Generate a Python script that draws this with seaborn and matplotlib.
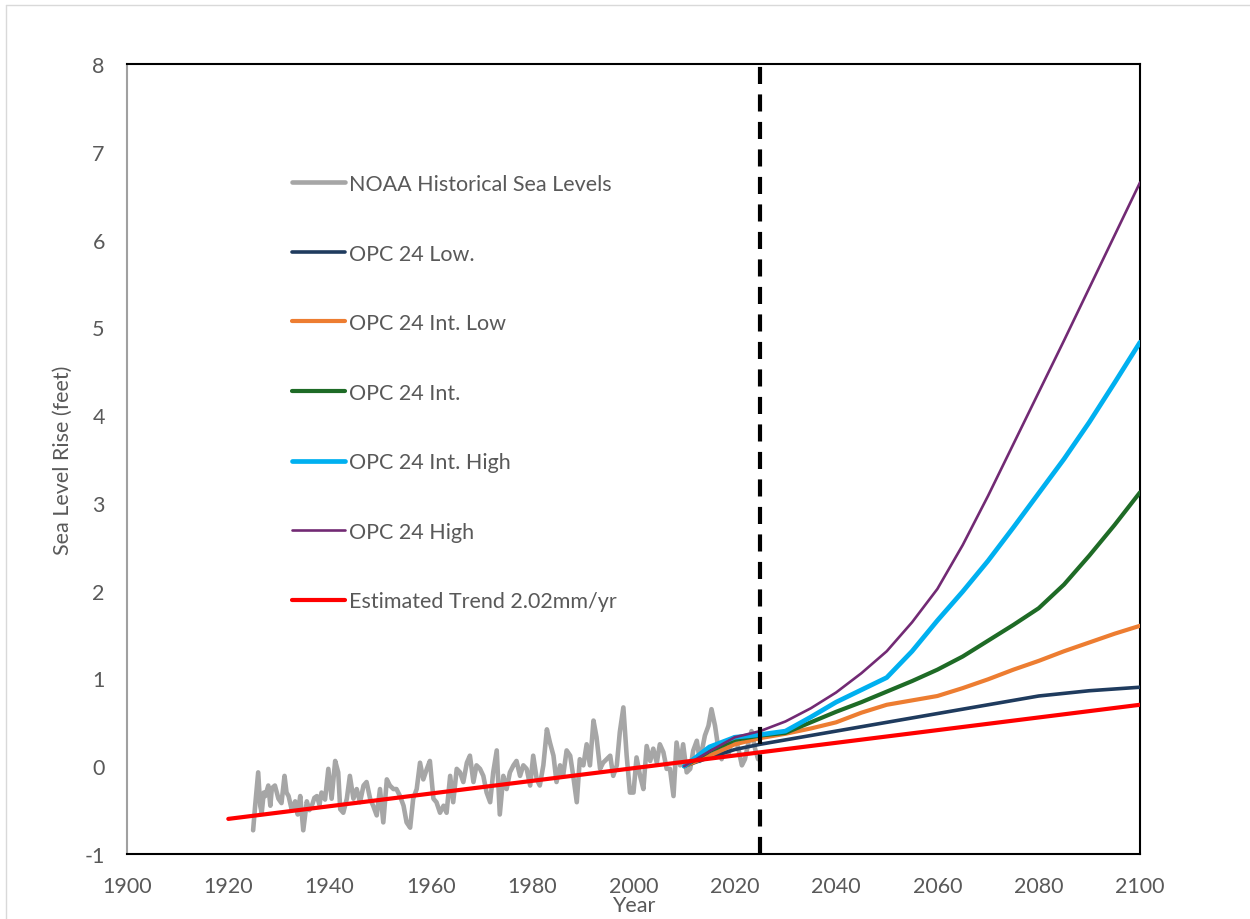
import matplotlib
matplotlib.use("Agg")
import matplotlib.pyplot as plt
import seaborn as sns
from matplotlib.lines import Line2D

# ---------------- data ----------------
# NOAA historical relative sea level (feet)
hist_years = [
    1924.9, 1925.3, 1925.9, 1926.3, 1926.6, 1927.0, 1927.3, 1927.9, 1928.3, 1928.6,
    1929.2, 1929.9, 1930.5, 1931.1, 1931.5, 1931.9, 1932.5, 1933.2, 1933.7, 1934.2,
    1934.8, 1935.5, 1936.0, 1936.5, 1937.0, 1937.5, 1938.0, 1938.4, 1939.1, 1939.75,
    1940.4, 1941.1, 1941.7, 1942.1, 1942.7, 1943.4, 1944.0, 1944.7, 1945.35, 1946.0,
    1946.7, 1947.3, 1948.0, 1948.6, 1949.3, 1949.95, 1950.6, 1951.3, 1951.9, 1952.6,
    1953.2, 1953.9, 1954.6, 1955.2, 1955.9, 1956.5, 1957.2, 1957.85, 1958.5, 1959.2,
    1959.8, 1960.5, 1961.1, 1961.8, 1962.5, 1963.1, 1963.8, 1964.4, 1965.1, 1965.75,
    1966.4, 1967.1, 1967.7, 1968.4, 1969.0, 1969.7, 1970.35, 1971.0, 1971.7, 1972.3,
    1973.0, 1973.6, 1974.3, 1974.95, 1975.6, 1976.3, 1976.9, 1977.6, 1978.25, 1978.9,
    1979.6, 1980.2, 1980.9, 1981.5, 1982.2, 1982.9, 1983.5, 1984.2, 1984.8, 1985.5,
    1986.1, 1986.8, 1987.5, 1988.1, 1988.8, 1989.4, 1990.1, 1990.75, 1991.4, 1992.1,
    1992.7, 1993.4, 1994.0, 1994.7, 1995.4, 1996.0, 1996.7, 1997.3, 1998.0, 1998.65,
    1999.3, 2000.0, 2000.6, 2001.3, 2001.95, 2002.6, 2003.3, 2003.9, 2004.6, 2005.2,
    2005.9, 2006.55, 2007.2, 2007.9, 2008.5, 2009.2, 2009.8, 2010.5, 2011.2, 2011.8,
    2012.5, 2013.1, 2014.1, 2014.8, 2015.4, 2016.1, 2016.75, 2017.4, 2018.1, 2018.7,
    2019.4, 2020.0, 2020.7, 2021.4, 2022.0, 2022.7, 2023.3, 2024.0, 2024.6,
]
hist_level = [
    -0.73, -0.45, -0.07, -0.45, -0.53, -0.30, -0.34, -0.22, -0.45, -0.25,
    -0.22, -0.37, -0.42, -0.11, -0.30, -0.34, -0.49, -0.40, -0.55, -0.34,
    -0.73, -0.40, -0.50, -0.45, -0.36, -0.34, -0.44, -0.30, -0.38, -0.03,
    -0.37, 0.06, -0.07, -0.49, -0.53, -0.37, -0.11, -0.37, -0.26, -0.41,
    -0.22, -0.18, -0.37, -0.45, -0.56, -0.26, -0.64, -0.15, -0.22, -0.26,
    -0.26, -0.34, -0.45, -0.64, -0.70, -0.37, -0.26, 0.04, -0.15, -0.03,
    0.06, -0.37, -0.41, -0.53, -0.45, -0.53, -0.11, -0.41, -0.03, -0.07,
    -0.18, 0.04, 0.12, -0.18, 0.01, -0.03, -0.11, -0.30, -0.41, -0.07,
    0.18, -0.55, -0.11, -0.26, -0.07, 0.01, 0.06, -0.11, 0.01, -0.03,
    -0.22, 0.12, -0.15, -0.22, 0.01, 0.42, 0.27, 0.12, -0.18, 0.01,
    -0.11, 0.18, 0.12, -0.11, -0.41, 0.08, 0.01, 0.25, 0.01, 0.52,
    0.33, -0.03, 0.04, 0.08, 0.12, -0.11, 0.01, 0.39, 0.67, 0.12,
    -0.30, -0.30, 0.10, -0.11, -0.26, 0.23, 0.06, 0.20, 0.04, 0.25,
    0.16, -0.03, -0.03, -0.34, 0.27, 0.01, 0.25, -0.07, -0.03, 0.18,
    0.29, 0.06, 0.35, 0.46, 0.65, 0.46, 0.20, 0.08, 0.23, 0.12,
    0.31, 0.33, 0.20, 0.01, 0.08, 0.27, 0.40, 0.20, 0.08,
]

# OPC 2024 projection scenarios (feet)
proj_years = [2010, 2015, 2020, 2025, 2030, 2035, 2040, 2045, 2050, 2055,
              2060, 2065, 2070, 2075, 2080, 2085, 2090, 2095, 2100]
opc_low = [0.00, 0.10, 0.19, 0.25, 0.30, 0.35, 0.40, 0.45, 0.50, 0.55,
           0.60, 0.65, 0.70, 0.75, 0.80, 0.83, 0.86, 0.88, 0.90]
opc_int_low = [0.00, 0.12, 0.25, 0.32, 0.37, 0.43, 0.50, 0.61, 0.70, 0.75,
               0.80, 0.89, 0.99, 1.10, 1.20, 1.31, 1.41, 1.51, 1.60]
opc_int = [0.00, 0.17, 0.30, 0.35, 0.38, 0.50, 0.62, 0.73, 0.85, 0.97,
           1.10, 1.25, 1.43, 1.61, 1.80, 2.07, 2.40, 2.75, 3.12]
opc_int_high = [0.00, 0.22, 0.33, 0.36, 0.40, 0.56, 0.73, 0.87, 1.01, 1.31,
                1.66, 1.99, 2.34, 2.72, 3.11, 3.50, 3.92, 4.37, 4.83]
opc_high = [0.00, 0.17, 0.33, 0.40, 0.51, 0.66, 0.84, 1.06, 1.31, 1.64,
            2.02, 2.52, 3.08, 3.67, 4.26, 4.85, 5.45, 6.05, 6.65]

# Linear trend line (2.02 mm/yr)
trend_years = [1920, 2100]
trend_level = [-0.60, 0.70]

CURRENT_YEAR = 2025

x_ticks = [1900, 1920, 1940, 1960, 1980, 2000, 2020, 2040, 2060, 2080, 2100]
y_ticks = [-1, 0, 1, 2, 3, 4, 5, 6, 7, 8]

series = [
    ("NOAA Historical Sea Levels", hist_years, hist_level, "#a6a6a6", 3.3, 2),
    ("OPC 24 Low.", proj_years, opc_low, "#1f3b5e", 2.6, 3),
    ("OPC 24 Int. Low", proj_years, opc_int_low, "#ed7d31", 3.0, 3),
    ("OPC 24 Int.", proj_years, opc_int, "#1e6b26", 3.0, 3),
    ("OPC 24 Int. High", proj_years, opc_int_high, "#00b0f0", 3.4, 3),
    ("OPC 24 High", proj_years, opc_high, "#722a74", 1.9, 3.5),
    ("Estimated Trend 2.02mm/yr", trend_years, trend_level, "#ff0000", 3.0, 4),
]

# ---------------- style ----------------
sns.set_theme(style="white")
plt.rcParams["font.family"] = ["Lato", "DejaVu Sans"]
plt.rcParams["lines.solid_capstyle"] = "round"
plt.rcParams["lines.solid_joinstyle"] = "round"
TEXT_GREY = "#595959"
FONT_SIZE = 15.5

fig = plt.figure(figsize=(12.5, 9.2), dpi=100)
ax = fig.add_axes([127 / 1250, 1 - 855 / 920, (1140 - 127) / 1250, (855 - 65) / 920])

for label, xs, ys, color, lw, z in series:
    sns.lineplot(x=xs, y=ys, ax=ax, color=color, linewidth=lw, label=label,
                 estimator=None, zorder=z)

ax.axvline(CURRENT_YEAR, color="black", linewidth=3, linestyle=(0, (4.1, 2.5)),
           zorder=6)

ax.set_xlim(x_ticks[0], x_ticks[-1])
ax.set_ylim(y_ticks[0], y_ticks[-1])
ax.set_xticks(x_ticks)
ax.set_xticklabels([str(t) for t in x_ticks])
ax.set_yticks(y_ticks)
ax.set_yticklabels([str(t) for t in y_ticks])
ax.tick_params(axis="both", length=0, labelsize=FONT_SIZE, labelcolor=TEXT_GREY)
ax.tick_params(axis="x", pad=16)
ax.tick_params(axis="y", pad=16)

ax.set_xlabel("Year", fontsize=FONT_SIZE, color=TEXT_GREY, labelpad=-1)
ax.set_ylabel("Sea Level Rise (feet)", fontsize=FONT_SIZE, color=TEXT_GREY, labelpad=8)

for side in ("top", "right", "bottom"):
    ax.spines[side].set_color("black")
    ax.spines[side].set_linewidth(1.5)
ax.spines["left"].set_color("#a0a0a0")
ax.spines["left"].set_linewidth(1.5)
ax.grid(False)

ax.legend(loc="upper left", bbox_to_anchor=((292 - 127) / 1013, (855 - 175) / 790),
          frameon=False, fontsize=FONT_SIZE, labelcolor=TEXT_GREY,
          handlelength=2.45, handletextpad=0.22, labelspacing=2.3,
          borderpad=0, borderaxespad=0)

# thin outer frame of the chart area
fig.add_artist(Line2D([6 / 1250, 6 / 1250], [0, 1 - 6 / 920], transform=fig.transFigure,
                      color="#d9d9d9", linewidth=1))
fig.add_artist(Line2D([6 / 1250, 1], [1 - 6 / 920, 1 - 6 / 920], transform=fig.transFigure,
                      color="#d9d9d9", linewidth=1))

fig.savefig("out.png", dpi=100, facecolor="white")
